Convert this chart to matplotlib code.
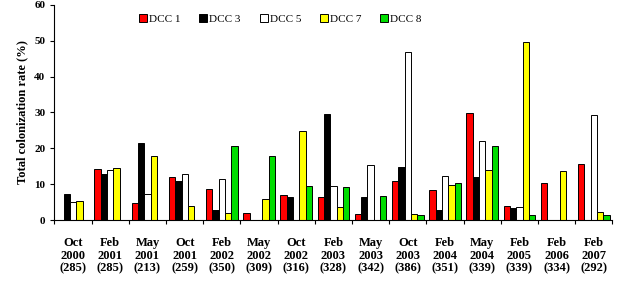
import numpy as np
import matplotlib.pyplot as plt

plt.rcParams['font.family'] = ['Liberation Serif', 'DejaVu Serif']

periods = ['Oct\n2000\n(285)', 'Feb\n2001\n(285)', 'May\n2001\n(213)', 'Oct\n2001\n(259)',
           'Feb\n2002\n(350)', 'May\n2002\n(309)', 'Oct\n2002\n(316)', 'Feb\n2003\n(328)',
           'May\n2003\n(342)', 'Oct\n2003\n(386)', 'Feb\n2004\n(351)', 'May\n2004\n(339)',
           'Feb\n2005\n(339)', 'Feb\n2006\n(334)', 'Feb\n2007\n(292)']

dcc1 = [0, 14.2, 4.7, 11.9, 8.6, 2.0, 7.1, 6.5, 1.7, 10.9, 8.3, 29.9, 3.9, 10.2, 15.6]
dcc3 = [7.2, 12.8, 21.4, 10.9, 2.9, 0, 6.3, 29.5, 6.3, 14.8, 2.8, 12.0, 3.3, 0, 0]
dcc5 = [4.9, 13.9, 7.2, 12.8, 11.4, 0, 0, 9.4, 15.3, 46.9, 12.2, 22.0, 3.6, 0, 29.3]
dcc7 = [5.4, 14.5, 17.9, 3.9, 2.0, 5.9, 24.8, 3.6, 0, 1.6, 9.7, 13.9, 49.6, 13.6, 2.2]
dcc8 = [0, 0, 0, 0, 20.7, 17.9, 9.4, 9.1, 6.8, 1.3, 10.2, 20.7, 1.3, 0, 1.3]

series = [('DCC 1', dcc1, '#ff0000'), ('DCC 3', dcc3, '#000000'),
          ('DCC 5', dcc5, '#ffffff'), ('DCC 7', dcc7, '#ffff00'),
          ('DCC 8', dcc8, '#00dd00')]

fig = plt.figure(figsize=(6.22, 2.88), dpi=100)
ax = fig.add_axes([0.0876, 0.236, 0.897, 0.747])

x = np.arange(len(periods))
w = 0.17
for i, (name, vals, col) in enumerate(series):
    v = np.array(vals, dtype=float)
    v[v == 0] = np.nan
    ax.bar(x + (i - 2) * w, v, width=w, color=col, edgecolor='black',
           linewidth=0.7, label=name)

ax.set_xlim(-0.5, len(periods) - 0.5)
ax.set_ylim(0, 60)
ax.set_yticks(range(0, 61, 10))
ax.set_yticklabels([str(t) for t in range(0, 61, 10)], fontweight='bold', fontsize=8)

ax.set_xticks(np.arange(len(periods) + 1) - 0.5)
ax.set_xticklabels([])
ax.set_xticks(x, minor=True)
ax.set_xticklabels(periods, minor=True, fontweight='bold', fontsize=9, linespacing=1.1)
ax.tick_params(axis='x', which='minor', length=0, pad=12)
ax.tick_params(axis='x', which='major', length=3, direction='out')
ax.tick_params(axis='y', length=3, direction='out')

ax.spines['top'].set_visible(False)
ax.spines['right'].set_visible(False)
ax.set_ylabel('Total colonization rate (%)', fontweight='bold', fontsize=9)

ax.legend(loc='center', bbox_to_anchor=(0.405, 0.935), ncol=5, frameon=False,
          fontsize=8, handlelength=0.7, handleheight=0.7, handletextpad=0.2,
          columnspacing=1.7)

fig.savefig('out.png', dpi=100)
